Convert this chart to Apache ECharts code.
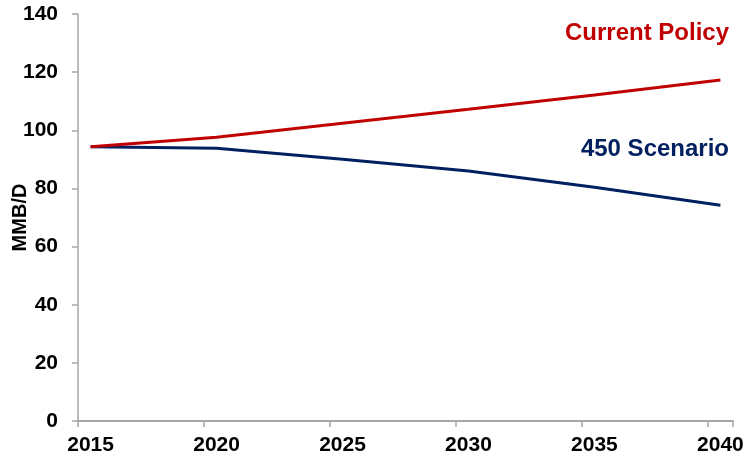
<!DOCTYPE html>
<html>
<head>
<meta charset="utf-8">
<script src="https://cdn.jsdelivr.net/npm/echarts@6/dist/echarts.min.js"></script>
<style>
html,body{margin:0;padding:0;background:#fff;}
#c{width:747px;height:459px;}
</style>
</head>
<body>
<div id="c"></div>
<script>
// Categories: each year 2015..2040
var years = ['2015','2016','2017','2018','2019','2020','2021','2022','2023','2024','2025','2026','2027','2028','2029','2030','2031','2032','2033','2034','2035','2036','2037','2038','2039','2040'];
// Series values (MMB/D), only 5-year points given
var currentPolicy = [94.3,null,null,null,null,97.6,null,null,null,null,102.4,null,null,null,null,107.2,null,null,null,null,112.1,null,null,null,null,117.3];
var scenario450 = [94.3,null,null,null,null,93.8,null,null,null,null,90.0,null,null,null,null,86.0,null,null,null,null,80.4,null,null,null,null,74.2];
var yTicks = [0,20,40,60,80,100,120,140];
var seriesNames = ['Current Policy','450 Scenario'];

var chart = echarts.init(document.getElementById('c'), null, {renderer:'canvas'});
var axisGray = '#A6A6A6';
var font = 'Liberation Sans, Arial, sans-serif';
chart.setOption({
  animation:false,
  backgroundColor:'#fff',
  grid:{left:78,right:14,top:14,bottom:38,containLabel:false,outerBoundsMode:'none'},
  xAxis:{
    type:'category',
    data:years,
    boundaryGap:true,
    axisLine:{lineStyle:{color:axisGray,width:2}},
    axisTick:{show:true,interval:4,length:6,lineStyle:{color:axisGray,width:1.5}},
    axisLabel:{interval:4,color:'#000',fontWeight:'bold',fontSize:21,fontFamily:font,margin:14},
    splitLine:{show:false}
  },
  yAxis:{
    type:'value',
    min:yTicks[0],
    max:yTicks[yTicks.length-1],
    interval:20,
    name:'MMB/D',
    nameLocation:'middle',
    nameGap:48,
    nameRotate:90,
    nameMoveOverlap:false,
    nameTextStyle:{color:'#000',fontWeight:'bold',fontSize:20,fontFamily:font},
    axisLine:{show:true,lineStyle:{color:axisGray,width:1.5}},
    axisTick:{show:true,length:6,lineStyle:{color:axisGray,width:1.5}},
    axisLabel:{color:'#000',fontWeight:'bold',fontSize:21,fontFamily:font,margin:20},
    splitLine:{show:false}
  },
  series:[
    {name:seriesNames[0],type:'line',data:currentPolicy,connectNulls:true,showSymbol:false,symbol:'none',smooth:false,
     lineStyle:{color:'#C00000',width:3},z:3},
    {name:seriesNames[1],type:'line',data:scenario450,connectNulls:true,showSymbol:false,symbol:'none',smooth:false,
     lineStyle:{color:'#002060',width:3},z:2}
  ],
  graphic:[
    {type:'text',right:18,top:21,style:{text:seriesNames[0],fill:'#C00000',font:'bold 24px '+font}},
    {type:'text',right:18,top:137,style:{text:seriesNames[1],fill:'#002060',font:'bold 24px '+font}}
  ]
});
</script>
</body>
</html>
